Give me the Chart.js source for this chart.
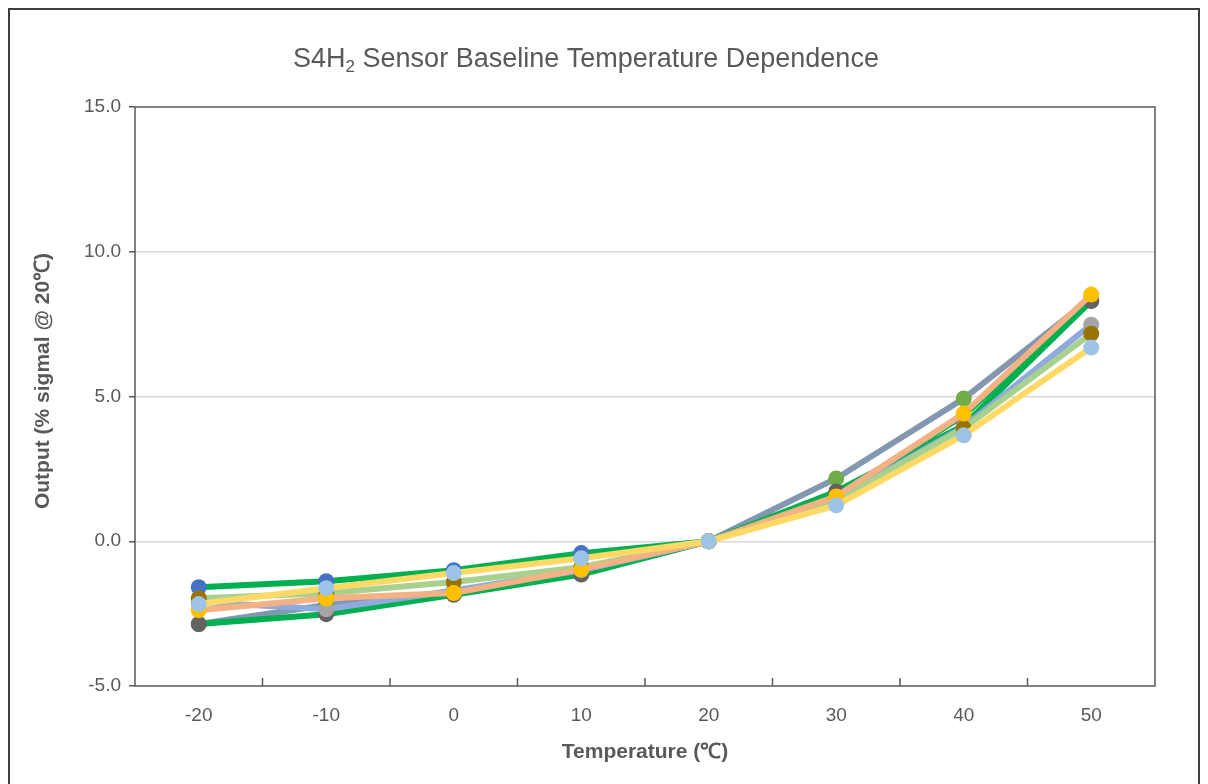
<!DOCTYPE html>
<html>
<head>
<meta charset="utf-8">
<script src="https://cdn.jsdelivr.net/npm/chart.js@4.4.1/dist/chart.umd.min.js"></script>
<style>
  body { margin: 0; background: #fff; }
  #wrap { position: relative; width: 1208px; height: 784px; }
</style>
</head>
<body>
<div id="wrap"><canvas id="chart"></canvas></div>
<script>
// S4H2 baseline vs temperature
const temps = ['-20', '-10', '0', '10', '20', '30', '40', '50'];
const yTicks = [-5, 0, 5, 10, 15];

// series, listed bottom (drawn first) to top
const sensorC = [-2.86, -2.20, -1.75, -1.12, 0, 2.17, 4.93, 8.40];
const sensorA = [-1.59, -1.38, -1.00, -0.41, 0, 1.55, 4.35, 8.30];
const sensorB = [-2.86, -2.52, -1.85, -1.15, 0, 1.72, 4.00, 8.30];
const sensorE = [-2.10, -2.35, -1.70, -1.00, 0, 1.45, 3.95, 7.48];
const sensorF = [-1.97, -1.80, -1.41, -0.90, 0, 1.40, 3.90, 7.17];
const sensorD = [-2.38, -1.97, -1.79, -0.97, 0, 1.55, 4.41, 8.52];
const sensorG = [-2.17, -1.62, -1.10, -0.59, 0, 1.24, 3.66, 6.69];

const lineColors   = ['#8497B0', '#00B050', '#00B050', '#8FAADC', '#A9D18E', '#F4B183', '#FFD966'];
const markerColors = ['#70AD47', '#4472C4', '#636363', '#A5A5A5', '#997300', '#FFC000', '#9DC3E6'];
const seriesData = [sensorC, sensorA, sensorB, sensorE, sensorF, sensorD, sensorG];

const txt = '#595959';
const fontFam = '"Liberation Sans", Arial, sans-serif';

const datasets = seriesData.map((d, i) => ({
  label: 'S' + (i + 1),
  data: d,
  borderColor: lineColors[i],
  borderWidth: 6,
  pointRadius: 8,
  pointHoverRadius: 8,
  pointBackgroundColor: markerColors[i],
  pointBorderColor: markerColors[i],
  pointBorderWidth: 0,
  tension: 0,
  // first in list drawn first -> highest order
  order: seriesData.length - i
}));

// frame, outer border, inner x tick marks, titles
const decor = {
  id: 'decor',
  afterDraw(chart) {
    const ctx = chart.ctx;
    const a = chart.chartArea;
    const xs = chart.scales.x;
    ctx.save();
    ctx.strokeStyle = '#595959';
    ctx.lineWidth = 1.5;
    ctx.strokeRect(a.left, a.top, a.right - a.left, a.bottom - a.top);
    // small upward ticks between categories
    for (let i = 0; i < temps.length - 1; i++) {
      const x = (xs.getPixelForTick(i) + xs.getPixelForTick(i + 1)) / 2;
      ctx.beginPath();
      ctx.moveTo(x, a.bottom);
      ctx.lineTo(x, a.bottom - 8);
      ctx.stroke();
    }
    // outer border
    ctx.strokeStyle = '#404040';
    ctx.lineWidth = 2;
    ctx.strokeRect(9, 9, 1190, 800);

    // chart title with subscript 2
    const big = '27px ' + fontFam, small = '17px ' + fontFam;
    const p1 = 'S4H', p2 = '2', p3 = ' Sensor Baseline Temperature Dependence';
    ctx.font = big;
    const w1 = ctx.measureText(p1).width, w3 = ctx.measureText(p3).width;
    ctx.font = small;
    const w2 = ctx.measureText(p2).width;
    let x = 586 - (w1 + w2 + w3) / 2;
    const base = 67;
    ctx.fillStyle = txt;
    ctx.textBaseline = 'alphabetic';
    ctx.textAlign = 'left';
    ctx.font = big; ctx.fillText(p1, x, base); x += w1;
    ctx.font = small; ctx.fillText(p2, x, base + 5); x += w2;
    ctx.font = big; ctx.fillText(p3, x, base);

    // y axis title
    ctx.translate(43, 381);
    ctx.rotate(-Math.PI / 2);
    ctx.font = 'bold 21px ' + fontFam;
    ctx.textAlign = 'center';
    ctx.textBaseline = 'middle';
    ctx.fillText('Output (% sigmal @ 20℃)', 0, 0);
    ctx.restore();
  }
};

new Chart(document.getElementById('chart'), {
  type: 'line',
  data: { labels: temps, datasets: datasets },
  options: {
    responsive: true,
    maintainAspectRatio: false,
    animation: false,
    layout: { padding: { top: 107, right: 53, left: 0, bottom: 0 } },
    plugins: { legend: { display: false }, tooltip: { enabled: false } },
    scales: {
      x: {
        type: 'category',
        offset: true,
        grid: { display: false, drawTicks: false },
        border: { display: false },
        ticks: { color: txt, font: { family: fontFam, size: 19 }, padding: 18 },
        title: {
          display: true,
          text: 'Temperature (℃)',
          color: txt,
          font: { family: fontFam, size: 21, weight: 'bold' },
          padding: { top: 0, bottom: 19 }
        },
        afterFit(s) { s.height = 98; }
      },
      y: {
        min: -5,
        max: 15,
        afterBuildTicks(s) { s.ticks = yTicks.map(v => ({ value: v })); },
        grid: {
          color: c => (c.tick && (c.tick.value === 15 || c.tick.value === -5)) ? 'rgba(0,0,0,0)' : '#D9D9D9',
          lineWidth: 1.5,
          tickColor: '#595959',
          tickLength: 6
        },
        border: { display: false },
        ticks: {
          color: txt,
          font: { family: fontFam, size: 19 },
          padding: 8,
          callback: v => Number(v).toFixed(1)
        },
        afterFit(s) { s.width = 135; }
      }
    }
  },
  plugins: [decor]
});
</script>
</body>
</html>
